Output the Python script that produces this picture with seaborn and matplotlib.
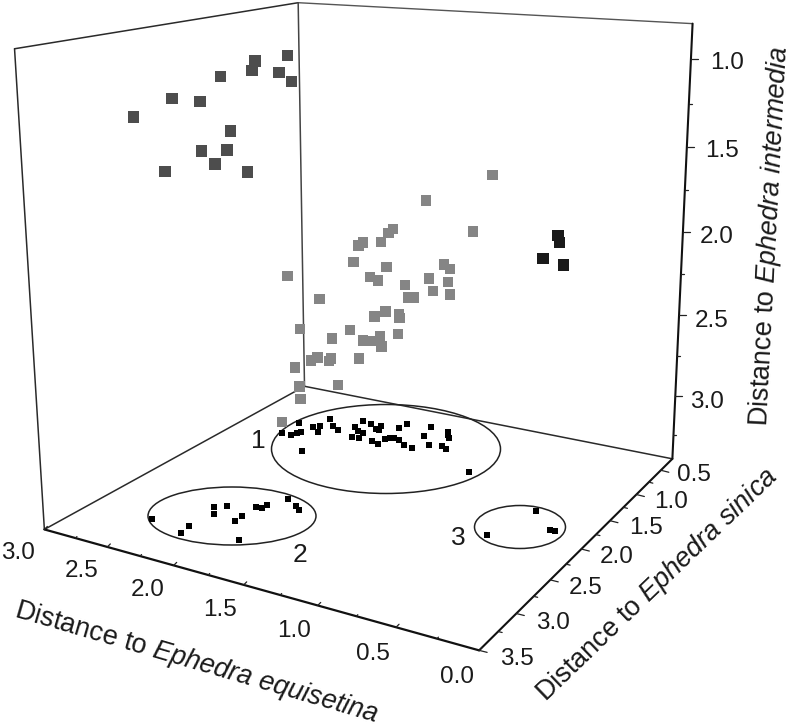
"""Three-way distance plot for the Ephedra accessions, drawn as a box in perspective."""

import matplotlib
matplotlib.use("Agg")
import matplotlib.pyplot as plt
from matplotlib.patches import Ellipse
import numpy as np
import pandas as pd
import seaborn as sns

# distance to E. equisetina / E. sinica / E. intermedia, group 1
g1_equisetina = [0.97, 1.68, 1.25, 1.77, 1.87, 1.88, 2.20, 2.17, 2.29, 2.08, 2.69, 1.97, 2.04, 1.95, 1.62, 1.44,
                 1.53, 1.56, 1.55, 1.52, 1.70, 1.78, 2.43, 2.09, 1.94, 1.82, 1.80, 2.44, 2.18, 1.81, 2.36, 2.02,
                 2.03, 2.03, 2.08, 2.06, 2.55, 2.49, 2.27, 2.29, 2.14, 2.48, 2.49, 2.00, 2.50, 2.76]
g1_sinica = [1.22, 0.75, 0.90, 1.08, 0.96, 1.05, 0.73, 0.85, 0.71, 0.59, 0.99, 1.05, 0.80, 0.55, 0.58, 0.86,
             1.01, 0.64, 0.90, 0.69, 0.99, 0.75, 0.97, 0.59, 1.04, 0.90, 0.93, 1.24, 0.97, 0.93, 0.92, 0.81,
             1.05, 0.93, 0.73, 0.71, 0.81, 1.01, 1.09, 1.09, 0.91, 1.25, 1.18, 1.47, 1.15, 0.99]
g1_intermedia = [1.603, 1.893, 2.013, 2.022, 2.078, 2.116, 2.212, 2.206, 2.351, 2.383, 2.434, 2.345, 2.424, 2.494,
                 2.315, 2.269, 2.309, 2.408, 2.411, 2.473, 2.451, 2.512, 2.558, 2.676, 2.592, 2.591, 2.608, 2.695,
                 2.727, 2.708, 2.817, 2.778, 2.753, 2.785, 2.837, 2.875, 2.995, 2.959, 2.894, 2.915, 2.919, 2.947,
                 3.089, 2.932, 3.180, 3.418]

# group 2
g2_equisetina = [1.83, 2.11, 2.00, 1.50, 1.78, 2.05, 2.26, 1.98, 2.52, 2.05, 2.33, 2.19, 2.13, 2.57, 2.09]
g2_sinica = [2.35, 2.28, 2.49, 2.99, 2.39, 2.76, 2.97, 3.09, 3.01, 2.67, 2.58, 2.50, 2.73, 2.64, 2.43]
g2_intermedia = [0.878, 0.930, 0.954, 0.884, 1.008, 0.958, 1.062, 1.045, 1.171, 1.252, 1.391, 1.385, 1.423, 1.513, 1.505]

# group 3
g3_equisetina = [0.36, 0.26, 0.25, 0.23]
g3_sinica = [1.60, 1.83, 2.11, 1.83]
g3_intermedia = [1.818, 1.804, 1.835, 1.920]

# shadows on the floor of the box
floor_equisetina = [2.61, 2.60, 2.53, 2.52, 2.50, 2.48, 2.44, 2.39, 2.45, 2.36, 2.29, 2.30, 2.21, 2.15, 2.10, 2.13,
                    2.07, 2.22, 2.14, 2.06, 2.06, 2.03, 1.96, 1.90, 1.90, 1.88, 1.86, 1.80, 1.73, 1.66, 1.92, 1.91,
                    1.73, 1.69, 1.58, 1.58, 1.55, 1.52, 1.49, 1.44, 1.11,
                    2.51, 2.23, 2.25, 2.28, 2.22, 2.22, 2.04, 2.04, 1.86, 2.04, 2.00, 2.00, 1.93, 1.83, 1.78,
                    0.46, 0.58, 0.27, 0.24]
floor_sinica = [0.99, 1.25, 1.24, 1.18, 1.15, 1.01, 0.97, 1.09, 0.81, 0.92, 0.97, 1.47, 0.85, 0.91, 0.93, 1.05,
                1.04, 0.71, 0.73, 0.80, 0.73, 0.81, 1.05, 1.08, 0.96, 0.93, 0.90, 0.93, 0.99, 1.01, 0.71, 0.59,
                0.55, 0.75, 0.90, 0.58, 0.64, 0.69, 0.86, 0.90, 1.22,
                3.01, 3.09, 2.97, 2.64, 2.73, 2.58, 2.76, 2.67, 2.99, 2.50, 2.49, 2.43, 2.28, 2.35, 2.39,
                1.60, 2.11, 1.83, 1.83]

x_ticks = [0.0, 0.5, 1.0, 1.5, 2.0, 2.5, 3.0]
y_ticks = [0.5, 1.0, 1.5, 2.0, 2.5, 3.0, 3.5]
z_ticks = [1.0, 1.5, 2.0, 2.5, 3.0]

# box limits
X_MAX, Y_MIN, Y_MAX, Z_TOP, Z_FLOOR = 3.0, 0.25, 3.5, 0.8, 3.4

# camera that takes box coordinates to picture pixels
CAMERA = np.array([[-117.092574, -101.729212, 11.576844, 711.117031],
                   [-6.865944, 12.506686, 181.16607, -124.342747],
                   [0.049713, -0.078493, 0.028808, 1.0]])


def project(x, y, z):
    x, y, z = np.broadcast_arrays(np.asarray(x, float), np.asarray(y, float), np.asarray(z, float))
    h = CAMERA @ np.vstack([x.ravel(), y.ravel(), z.ravel(), np.ones(x.size)])
    return h[0] / h[2], h[1] / h[2]


def edge(ax, a, b, lw, color="#2a2a2a"):
    u, v = project([a[0], b[0]], [a[1], b[1]], [a[2], b[2]])
    ax.plot(u, v, color=color, lw=lw, solid_capstyle="round", zorder=2)


def tick(ax, p, dx, dy, lw=0.9):
    u, v = project(*p)
    ax.plot([u[0], u[0] + dx], [v[0], v[0] + dy], color="#222222", lw=lw, zorder=2)


sns.set_theme(style="white")
plt.rcParams["font.family"] = ["Liberation Sans", "DejaVu Sans"]
plt.rcParams["mathtext.fontset"] = "custom"
plt.rcParams["mathtext.rm"] = "Liberation Sans"
plt.rcParams["mathtext.it"] = "Liberation Sans:italic"

fig = plt.figure(figsize=(7.91, 7.24), dpi=100)
ax = fig.add_axes([0, 0, 1, 1])
ax.set_xlim(0, 791)
ax.set_ylim(724, 0)
ax.axis("off")

# box
edge(ax, (X_MAX, Y_MAX, Z_TOP), (X_MAX, Y_MIN, Z_TOP), 1.1)
edge(ax, (X_MAX, Y_MIN, Z_TOP), (0, Y_MIN, Z_TOP), 1.0, "#555555")
edge(ax, (X_MAX, Y_MAX, Z_TOP), (X_MAX, Y_MAX, Z_FLOOR), 1.1)
edge(ax, (X_MAX, Y_MIN, Z_TOP), (X_MAX, Y_MIN, Z_FLOOR), 1.1, "#444444")
edge(ax, (X_MAX, Y_MAX, Z_FLOOR), (X_MAX, Y_MIN, Z_FLOOR), 1.1)
edge(ax, (X_MAX, Y_MIN, Z_FLOOR), (0, Y_MIN, Z_FLOOR), 1.1)
edge(ax, (X_MAX, Y_MAX, Z_FLOOR), (0, Y_MAX, Z_FLOOR), 1.6, "#111111")
edge(ax, (0, Y_MAX, Z_FLOOR), (0, Y_MIN, Z_FLOOR), 1.5, "#111111")
edge(ax, (0, Y_MIN, Z_TOP), (0, Y_MIN, Z_FLOOR), 1.5, "#111111")

# ticks, every other one is a minor tick
for v in np.arange(0, 3.01, 0.25):
    major = v in x_ticks
    tick(ax, (v, Y_MAX, Z_FLOOR), 3 if major else 1.5, -3 if major else -1.5)
for v in np.arange(0.5, 3.51, 0.25):
    major = v in y_ticks
    tick(ax, (0, v, Z_FLOOR), 8 if major else 4, 2 if major else 1)
for v in np.arange(1.0, 3.26, 0.25):
    major = v in z_ticks
    tick(ax, (0, Y_MIN, v), 7 if major else 3, 0)

# floor ellipses around the three groups
for centre, w, h in [((386, 449), 229, 89), ((232, 516), 168, 58), ((520, 527), 91, 43)]:
    ax.add_patch(Ellipse(centre, w, h, fill=False, edgecolor="#222222", lw=1.1, zorder=2))

floor_u, floor_v = project(floor_equisetina, floor_sinica, Z_FLOOR)
sns.scatterplot(x=floor_u, y=floor_v, marker="s", s=20, color="black", linewidth=0, ax=ax, zorder=3, legend=False)

groups = [("1", g1_equisetina, g1_sinica, g1_intermedia), ("2", g2_equisetina, g2_sinica, g2_intermedia),
          ("3", g3_equisetina, g3_sinica, g3_intermedia)]
frames = []
for name, gx, gy, gz in groups:
    u, v = project(gx, gy, gz)
    frames.append(pd.DataFrame({"u": u, "v": v, "group": name}))
marks = pd.concat(frames, ignore_index=True)
sns.scatterplot(data=marks, x="u", y="v", hue="group", size="group", marker="s", linewidth=0, ax=ax, zorder=4,
                palette={"1": "#858585", "2": "#4d4d4d", "3": "#1a1a1a"},
                sizes={"1": 56, "2": 68, "3": 68}, legend=False)
ax.set_xlabel("")
ax.set_ylabel("")

# tick labels
text_kw = dict(ha="center", va="center", color="#1a1a1a", zorder=5)
x_label_pos = [(457, 677), (373, 654), (294, 631), (220, 610), (148, 590), (82, 571), (18, 553)]
y_label_pos = [(694, 475), (671, 502), (646, 528), (617, 557), (586, 588), (553, 623), (517, 659)]
z_label_pos = [(727, 63), (722, 151), (717, 237), (712, 321), (707, 402)]
for ticks, positions in [(x_ticks, x_label_pos), (y_ticks, y_label_pos), (z_ticks, z_label_pos)]:
    for v, pos in zip(ticks, positions):
        ax.text(*pos, f"{v:.1f}", fontsize=17.5, **text_kw)

# group numbers
for label, pos in [("1", (258, 441)), ("2", (300, 555)), ("3", (458, 538))]:
    ax.text(*pos, label, fontsize=19, **text_kw)

# axis titles
title_kw = dict(fontsize=19.5, rotation_mode="anchor", **text_kw)
ax.text(197, 663, r"Distance to $\mathit{Ephedra\ equisetina}$", rotation=-16.3, **title_kw)
ax.text(657, 585, r"Distance to $\mathit{Ephedra\ sinica}$", rotation=43.9, **title_kw)
ax.text(770, 236, r"Distance to $\mathit{Ephedra\ intermedia}$", rotation=87, **title_kw)

fig.savefig("out.png", dpi=100)
plt.close(fig)
